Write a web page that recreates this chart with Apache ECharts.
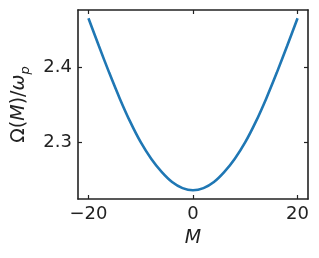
<!DOCTYPE html>
<html>
<head>
<meta charset="utf-8">
<script src="https://cdn.jsdelivr.net/npm/echarts@6/dist/echarts.min.js"></script>
<style>
html,body{margin:0;padding:0;background:#fff;}
#c{width:319px;height:258px;}
</style>
</head>
<body>
<div id="c"></div>
<script>
// Data
var mValues = [-20, -18, -16, -14, -12, -10, -8, -6, -4, -2, 0, 2, 4, 6, 8, 10, 12, 14, 16, 18, 20];
var omegaValues = [2.465, 2.428, 2.392, 2.358, 2.327, 2.300, 2.278, 2.2605, 2.247, 2.2389, 2.236, 2.2389, 2.247, 2.2605, 2.278, 2.300, 2.327, 2.358, 2.392, 2.428, 2.465];
var xTicks = [-20, 0, 20];
var yTicks = [2.3, 2.4];

var FONT = 'DejaVu Sans';
var dark = '#222222';
var pts = mValues.map(function(m, i){ return [m, omegaValues[i]]; });

function fmtX(v){ return v < 0 ? '\u2212' + Math.abs(v) : String(v); }
function fmtY(v){ return v.toFixed(1); }

var chart = echarts.init(document.getElementById('c'), null, {renderer:'canvas'});
function axisLine(){ return {show:true, onZero:false, lineStyle:{color:dark, width:1.6}}; }
function tickIn(vals){ return {show:true, inside:true, length:4, customValues:vals, lineStyle:{color:dark, width:1.2}}; }

chart.setOption({
  animation:false,
  backgroundColor:'#fff',
  grid:{left:78, top:10, right:11, bottom:59, containLabel:false},
  xAxis:[{
    type:'value', min:-22, max:22, position:'bottom',
    axisLine:axisLine(),
    axisTick:tickIn(xTicks),
    axisLabel:{customValues:xTicks, formatter:fmtX, color:dark, fontFamily:FONT, fontSize:18, margin:6},
    splitLine:{show:false},
    name:'M', nameLocation:'middle', nameGap:30,
    nameTextStyle:{fontFamily:FONT, fontSize:19, fontStyle:'italic', color:dark}
  },{
    type:'value', min:-22, max:22, position:'top',
    axisLine:axisLine(),
    axisTick:tickIn(xTicks),
    axisLabel:{show:false},
    splitLine:{show:false}
  }],
  yAxis:[{
    type:'value', min:2.2244, max:2.476, position:'left',
    axisLine:axisLine(),
    axisTick:tickIn(yTicks),
    axisLabel:{customValues:yTicks, formatter:fmtY, color:dark, fontFamily:FONT, fontSize:18, margin:6},
    splitLine:{show:false},
    name:'{n|\u03A9(}{i|M}{n|)/}{i|\u03C9}{s|p}', nameLocation:'middle', nameGap:46,
    nameTextStyle:{fontFamily:FONT, fontSize:19, color:dark,
      rich:{
        n:{fontFamily:FONT, fontSize:19, color:dark, lineHeight:26, verticalAlign:'middle'},
        i:{fontFamily:FONT, fontSize:19, fontStyle:'italic', color:dark, lineHeight:26, verticalAlign:'middle'},
        s:{fontFamily:FONT, fontSize:13, fontStyle:'italic', color:dark, lineHeight:13, verticalAlign:'bottom'}
      }}
  },{
    type:'value', min:2.2244, max:2.476, position:'right',
    axisLine:axisLine(),
    axisTick:tickIn(yTicks),
    axisLabel:{show:false},
    splitLine:{show:false}
  }],
  series:[{
    type:'line', data:pts, smooth:0.3, showSymbol:false,
    lineStyle:{color:'#1f77b4', width:2.6}, xAxisIndex:0, yAxisIndex:0
  }]
});
</script>
</body>
</html>
